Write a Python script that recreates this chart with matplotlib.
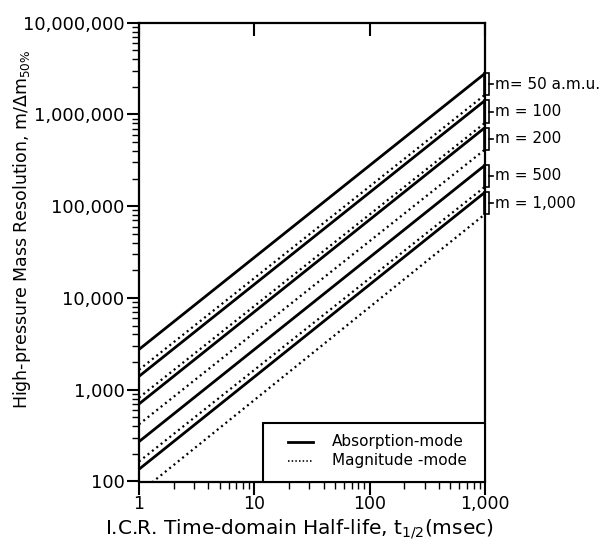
import matplotlib
matplotlib.use("Agg")
import matplotlib.pyplot as plt
from matplotlib.patches import Rectangle
import matplotlib.transforms as mtransforms

plt.rcParams['font.family'] = ['DejaVu Sans']

# ---- data ----
t_ends = [1, 1000]                       # msec
masses = [50, 100, 200, 500, 1000]
mass_labels = ["m= 50 a.m.u.", "m = 100", "m = 200", "m = 500", "m = 1,000"]
absorption = [[2750, 2800000], [1400, 1420000], [700, 720000], [272, 280000], [136, 142000]]
magnitude = [[1650, 1640000], [820, 810000], [420, 415000], [165, 163000], [75, 82000]]

x_ticks = [1, 10, 100, 1000]
x_ticklabels = ["1", "10", "100", "1,000"]
y_ticks = [100, 1000, 10000, 100000, 1000000, 10000000]
y_ticklabels = ["100", "1,000", "10,000", "100,000", "1,000,000", "10,000,000"]

W, H = 604, 545
fig = plt.figure(figsize=(W / 100, H / 100), dpi=100)
L, R, T, B = 139, 485, 22.7, 481.5
ax = fig.add_axes([L / W, (H - B) / H, (R - L) / W, (B - T) / H])
ax.set_xscale('log')
ax.set_yscale('log')
ax.set_xlim(1, 1000)
ax.set_ylim(100, 1e7)

for a, g in zip(absorption, magnitude):
    ax.plot(t_ends, a, color='black', lw=2.0, solid_capstyle='butt')
    ax.plot(t_ends, g, color='black', lw=1.6, linestyle=(0, (0.9, 1.6)))

for s in ax.spines.values():
    s.set_linewidth(1.6)

ax.set_xticks(x_ticks)
ax.set_xticklabels(x_ticklabels)
ax.set_yticks(y_ticks)
ax.set_yticklabels(y_ticklabels)
ax.tick_params(which='major', direction='out', length=9, width=1.5,
               labelsize=13, pad=1.5, top=True, right=False)
ax.tick_params(axis='x', which='major', pad=1, labelsize=12.5)
ax.tick_params(which='minor', direction='out', length=5, width=1.0,
               top=False, right=False)
# top major ticks point inward
for tk in ax.xaxis.get_major_ticks():
    tk.tick2line.set_marker(3)  # TICKDOWN
    tk.tick2line.set_markersize(9)

# brackets at right edge
trans = mtransforms.blended_transform_factory(ax.transAxes, ax.transData)
for a, g, lab in zip(absorption, magnitude, mass_labels):
    top, bot = a[1], g[1]
    ax.add_patch(Rectangle((0.997, bot), 0.014, top - bot, transform=trans,
                           fill=False, edgecolor='black', lw=1.2, clip_on=False))
    mid = (top * bot) ** 0.5
    ax.plot([1.011, 1.024], [mid, mid], transform=trans, color='black', lw=1.2, clip_on=False)
    ax.text(1.029, mid, lab, transform=trans, fontsize=11, va='center', ha='left')

# legend box drawn in axes fraction
ax.add_patch(Rectangle((0.358, 0.0), 0.642, 0.128, transform=ax.transAxes,
                       fill=True, facecolor='white', edgecolor='black', lw=1.5, zorder=5))
ax.plot([0.431, 0.503], [0.0867, 0.0867], transform=ax.transAxes, color='black', lw=2.0, zorder=6)
ax.plot([0.431, 0.503], [0.0447, 0.0447], transform=ax.transAxes, color='black', lw=1.2,
        linestyle=(0, (0.9, 1.3)), zorder=6)
ax.text(0.558, 0.0867, "Absorption-mode", transform=ax.transAxes, fontsize=11, va='center', zorder=6)
ax.text(0.558, 0.0447, "Magnitude -mode", transform=ax.transAxes, fontsize=11, va='center', zorder=6)

fig.text(22 / W, 1 - 229 / H, r"High-pressure Mass Resolution, m/$\Delta$m$_{50\%}$",
         rotation=90, ha='center', va='center', fontsize=12.5)
fig.text(299 / W, 1 - 529 / H, r"I.C.R. Time-domain Half-life, t$_{1/2}$(msec)",
         ha='center', va='center', fontsize=14.5)

fig.savefig("out.png", dpi=100)
